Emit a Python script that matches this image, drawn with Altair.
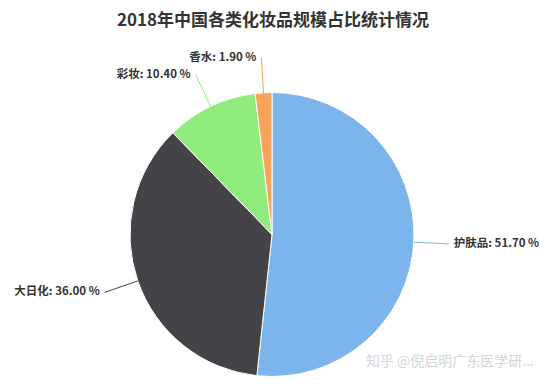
import altair as alt
import pandas as pd

categories = ["护肤品", "大日化", "彩妆", "香水"]
values = [51.70, 36.00, 10.40, 1.90]
colors = ["#7cb5ec", "#434348", "#90ed7d", "#f7a35c"]
title_text = "2018年中国各类化妆品规模占比统计情况"
watermark = "知乎 @倪启明广东医学研..."

FONT = "Noto Sans CJK SC"
CX, CY, R, RL = 264, 226.5, 142, 177

df = pd.DataFrame({"name": categories, "value": values, "idx": list(range(len(categories)))})

color = alt.Color("name:N", scale=alt.Scale(domain=categories, range=colors), legend=None)
base = alt.Chart(df)

arc = base.mark_arc(outerRadius=R, stroke="white", strokeWidth=1).encode(
    theta=alt.Theta("value:Q", stack=True),
    order=alt.Order("idx:Q", sort="ascending"),
    color=color,
    x=alt.value(CX),
    y=alt.value(CY),
)

geo = base.transform_joinaggregate(total="sum(value)").transform_window(
    cum="sum(value)", sort=[alt.SortField("idx", order="ascending")], frame=[None, 0]
).transform_calculate(
    mid="(datum.cum - datum.value/2)/datum.total*2*PI",
).transform_calculate(
    ex=f"{CX} + {R}*sin(datum.mid)",
    ey=f"{CY} - {R}*cos(datum.mid)",
    lx=f"{CX} + {RL}*sin(datum.mid)",
    ly=f"{CY} - {RL}*cos(datum.mid)",
    s="sin(datum.mid)",
    label="datum.name + ': ' + format(datum.value, '.2f') + ' %'",
)

rules = geo.mark_rule(strokeWidth=1).encode(
    x=alt.X("ex:Q", scale=None),
    y=alt.Y("ey:Q", scale=None),
    x2="lx:Q",
    y2="ly:Q",
    color=color,
)

left_txt = geo.transform_filter("datum.s < 0").mark_text(
    align="right", baseline="middle", dx=-5, font=FONT, fontSize=11.5, fontWeight="bold", color="#333333"
).encode(x=alt.X("lx:Q", scale=None), y=alt.Y("ly:Q", scale=None), text="label:N")

right_txt = geo.transform_filter("datum.s >= 0").mark_text(
    align="left", baseline="middle", dx=5, font=FONT, fontSize=11.5, fontWeight="bold", color="#333333"
).encode(x=alt.X("lx:Q", scale=None), y=alt.Y("ly:Q", scale=None), text="label:N")

tdf = pd.DataFrame({"t": [title_text]})
title = alt.Chart(tdf).mark_text(
    font=FONT, fontSize=17, fontWeight="bold", color="#333333", baseline="middle"
).encode(x=alt.value(265), y=alt.value(13), text="t:N")

wdf = pd.DataFrame({"t": [watermark]})
wm = alt.Chart(wdf).mark_text(
    font=FONT, fontSize=14, color="#d5d5d5", align="right", baseline="middle"
).encode(x=alt.value(526), y=alt.value(354), text="t:N")

chart = alt.layer(arc, rules, left_txt, right_txt, title, wm).properties(
    width=531, height=375, autosize="none", padding=0
).configure_view(stroke=None)

chart.save("out.html", embed_options={"renderer": "svg", "actions": False})
